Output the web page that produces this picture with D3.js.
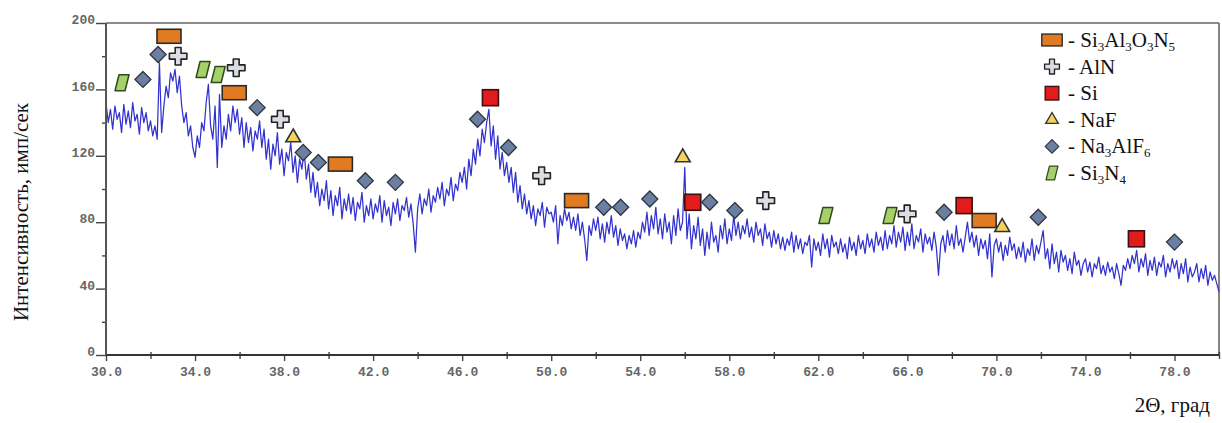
<!DOCTYPE html>
<html>
<head>
<meta charset="utf-8">
<script src="https://cdn.jsdelivr.net/npm/d3@7"></script>
<style>
  body { margin: 0; background: #fff; }
  svg { display: block; }
  .tick text { font-family: "Liberation Mono", "DejaVu Sans Mono", monospace; font-size: 13px; font-weight: bold; fill: #666; }
  .tick line { stroke: #444; stroke-width: 1.4; }
  .domain { display: none; }
</style>
</head>
<body>
<svg id="chart" width="1222" height="423"></svg>
<script>
// scan: 2Θ from 30.0 to 80.0 with step 0.1
const thetaStart = 30, thetaStep = 0.1;
const intensity = [
  152,140,148,136,150,142,146,134,151,139,
  147,137,152,141,145,133,149,140,146,135,
  141,132,138,130,176,134,150,162,155,170,
  165,172,158,168,150,140,146,132,138,125,
  119,132,125,140,135,152,163,138,130,150,
  113,157,125,138,130,145,135,150,140,148,
  133,143,125,140,128,137,123,135,130,141,
  125,136,118,130,112,127,120,134,115,124,
  108,122,117,128,110,120,104,118,112,123,
  106,115,98,110,95,104,90,100,93,105,
  88,99,84,96,90,101,82,94,87,97,
  85,95,81,92,88,98,80,90,84,94,
  82,91,86,96,80,93,84,89,78,92,
  85,94,81,90,87,95,83,91,79,62,
  88,97,85,94,90,100,86,96,92,101,
  94,104,90,100,96,107,93,103,99,110,
  104,113,100,118,108,124,115,130,120,136,
  128,140,148,126,138,118,132,112,122,108,
  116,104,113,98,110,92,102,88,97,85,
  93,82,90,78,88,84,92,77,89,85,
  86,80,90,67,84,78,88,81,86,76,
  83,75,85,72,80,70,57,78,72,82,
  75,83,70,79,68,80,73,84,71,78,
  66,76,69,73,64,72,67,75,65,74,
  70,80,74,86,72,84,76,89,73,82,
  70,85,74,80,67,84,72,88,75,80,
  113,70,85,64,78,70,83,66,76,60,
  74,64,80,68,72,62,78,70,82,67,
  76,69,84,72,80,70,78,73,82,71,
  77,68,80,72,76,66,79,70,74,65,
  75,67,73,64,71,63,70,66,74,62,
  72,64,70,61,68,66,72,53,70,63,
  68,60,73,64,70,59,72,65,68,61,
  70,62,67,58,71,63,68,60,72,64,
  69,61,73,65,70,62,74,66,71,63,
  75,64,72,67,78,65,74,68,77,63,
  74,66,79,64,72,68,76,62,73,67,
  71,63,74,65,48,67,72,62,75,66,
  73,64,78,66,70,62,71,80,68,74,
  65,72,60,70,64,69,58,73,47,66,
  70,62,68,57,66,60,71,63,67,58,
  65,59,68,56,64,60,70,57,66,61,
  68,75,58,64,52,67,55,62,50,63,
  56,60,51,58,49,62,54,57,48,55,
  58,50,56,47,55,52,59,49,54,48,
  56,50,53,46,55,49,42,54,51,58,
  52,60,55,63,50,58,53,61,48,57,
  51,59,48,56,53,60,47,55,50,58,
  52,57,46,55,49,58,44,53,47,50,
  55,44,52,46,54,42,50,45,48,43,
  38
];

const xTicks = [30, 34, 38, 42, 46, 50, 54, 58, 62, 66, 70, 74, 78];
const xMinor = [32, 36, 40, 44, 48, 52, 56, 60, 64, 68, 72, 76, 80];
const yTicks = [0, 40, 80, 120, 160, 200];
const yMinor = [20, 60, 100, 140, 180];

// phase reflexes: [2Θ, intensity of marker]
const si3al3o3n5 = [[32.83, 192], [35.76, 158], [40.53, 115], [51.14, 93], [69.45, 81]];
const aln = [[33.24, 180], [35.85, 173], [37.83, 142], [49.57, 108], [59.64, 93], [65.99, 85]];
const si = [[47.27, 155], [56.36, 92], [68.55, 90], [76.29, 70]];
const naf = [[38.41, 131], [55.91, 119], [70.26, 77]];
const na3alf6 = [[31.66, 166], [32.34, 181], [36.79, 149], [38.86, 122], [39.54, 116], [41.65, 105],
  [43.0, 104], [46.69, 142], [48.08, 125], [52.36, 89], [53.12, 89], [54.43, 94], [57.12, 92],
  [58.25, 87], [67.65, 86], [71.88, 83], [78.0, 68]];
const si3n4 = [[30.72, 164], [34.36, 172], [35.04, 169], [62.34, 84], [65.22, 84]];

const phaseNames = ["Si3Al3O3N5", "AlN", "Si", "NaF", "Na3AlF6", "Si3N4"];

const SERIF = '"Liberation Serif", "DejaVu Serif", "Times New Roman", serif';

const margin = {top: 23, right: 3, bottom: 68, left: 106};
const W = 1222, H = 423;
const innerW = W - margin.left - margin.right;
const innerH = H - margin.top - margin.bottom;

const svg = d3.select("#chart");
const g = svg.append("g").attr("transform", `translate(${margin.left},${margin.top})`);

const x = d3.scaleLinear().domain([30, 80]).range([0, innerW]);
const y = d3.scaleLinear().domain([0, 200]).range([innerH, 0]);

// frame
g.append("line").attr("x1", 0).attr("x2", innerW).attr("y1", 0).attr("y2", 0)
  .attr("stroke", "#666").attr("stroke-width", 1.6);
g.append("line").attr("x1", innerW).attr("x2", innerW).attr("y1", 0).attr("y2", innerH)
  .attr("stroke", "#666").attr("stroke-width", 1.6);

// spectrum
const line = d3.line()
  .x((d, i) => x(thetaStart + i * thetaStep))
  .y(d => y(d));
g.append("path")
  .datum(intensity)
  .attr("fill", "none")
  .attr("stroke", "#3232cf")
  .attr("stroke-width", 1.25)
  .attr("stroke-linejoin", "round")
  .attr("d", line);

// axes
g.append("g").attr("transform", `translate(0,${innerH})`)
  .call(d3.axisBottom(x).tickValues(xTicks).tickFormat(d3.format(".1f")).tickSize(6).tickPadding(6));
g.append("g").attr("transform", `translate(0,${innerH})`)
  .call(d3.axisBottom(x).tickValues(xMinor).tickFormat("").tickSize(4))
  .selectAll(".tick line").attr("y1", -3);
const yAxis = g.append("g")
  .call(d3.axisLeft(y).tickValues(yTicks).tickFormat(d3.format("d")).tickSize(10).tickPadding(1));
yAxis.selectAll(".tick text").attr("dy", "0.05em");
g.append("g")
  .call(d3.axisLeft(y).tickValues(yMinor).tickFormat("").tickSize(4));

g.append("line").attr("x1", 0).attr("x2", innerW).attr("y1", innerH).attr("y2", innerH)
  .attr("stroke", "#333").attr("stroke-width", 1.8);
g.append("line").attr("x1", 0).attr("x2", 0).attr("y1", 0).attr("y2", innerH)
  .attr("stroke", "#555").attr("stroke-width", 2);

// marker drawers
const markerDraw = {
  "Si3Al3O3N5": (sel) => sel.append("rect").attr("x", -12).attr("y", -7).attr("width", 24).attr("height", 14)
      .attr("fill", "#e07b22").attr("stroke", "#2a2a2a").attr("stroke-width", 1.6),
  "AlN": (sel) => sel.append("path").attr("d", d3.symbol(d3.symbolCross, 170)())
      .attr("fill", "#dcdce4").attr("stroke", "#222").attr("stroke-width", 1.6).attr("stroke-linejoin", "round"),
  "Si": (sel) => sel.append("rect").attr("x", -8).attr("y", -8).attr("width", 16).attr("height", 16)
      .attr("fill", "#e41b1b").attr("stroke", "#3a1010").attr("stroke-width", 1.6),
  "NaF": (sel) => sel.append("path").attr("d", d3.symbol(d3.symbolTriangle, 95)())
      .attr("fill", "#f3d45a").attr("stroke", "#333").attr("stroke-width", 1.6),
  "Na3AlF6": (sel) => sel.append("path").attr("d", "M0,-8L8,0L0,8L-8,0Z")
      .attr("fill", "#6b7fa0").attr("stroke", "#2d3440").attr("stroke-width", 1.3),
  "Si3N4": (sel) => sel.append("path").attr("d", "M-3,-8L7,-8L3,8L-7,8Z")
      .attr("fill", "#a6d16a").attr("stroke", "#2f4a1a").attr("stroke-width", 1.5).attr("stroke-linejoin", "round")
};

const phaseData = {
  "Si3Al3O3N5": si3al3o3n5, "AlN": aln, "Si": si, "NaF": naf, "Na3AlF6": na3alf6, "Si3N4": si3n4
};

phaseNames.forEach(name => {
  g.append("g").selectAll("g")
    .data(phaseData[name])
    .join("g")
    .attr("transform", d => `translate(${x(d[0])},${y(d[1])})`)
    .each(function () { markerDraw[name](d3.select(this)); });
});

// legend
const legend = svg.append("g").attr("transform", "translate(1052,40)");
phaseNames.forEach((name, i) => {
  const row = legend.append("g").attr("transform", `translate(0,${i * 26.6})`);
  markerDraw[name](row.append("g").attr("transform", "scale(0.85)"));
  const t = row.append("text").attr("x", 16).attr("y", 7)
    .style("font-family", SERIF).style("font-size", "21px").style("fill", "#111");
  t.append("tspan").text("- ");
  let low = false;
  name.split(/(\d)/).filter(s => s.length).forEach(part => {
    const isSub = /\d/.test(part);
    const dy = isSub ? (low ? 0 : 4) : (low ? -4 : 0);
    const sp = t.append("tspan").text(part).attr("dy", dy);
    if (isSub) sp.style("font-size", "13px");
    low = isSub;
  });
});

// axis titles
svg.append("text")
  .attr("transform", "translate(28,212) rotate(-90)")
  .attr("text-anchor", "middle")
  .style("font-family", SERIF).style("font-size", "21px").style("fill", "#111")
  .text("Интенсивность, имп/сек");
svg.append("text")
  .attr("x", 1210).attr("y", 412)
  .attr("text-anchor", "end")
  .style("font-family", SERIF).style("font-size", "21px").style("fill", "#111")
  .text("2Θ, град");
</script>
</body>
</html>
